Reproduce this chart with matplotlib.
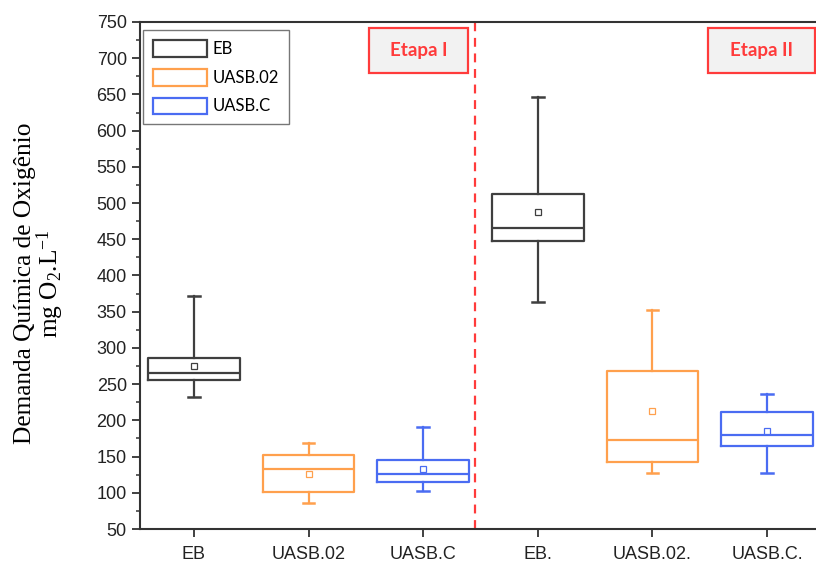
import matplotlib
matplotlib.use('Agg')
import matplotlib.pyplot as plt
from matplotlib.patches import Patch, Rectangle
from matplotlib.ticker import MultipleLocator

plt.rcParams['font.family'] = 'Liberation Sans'
plt.rcParams['mathtext.fontset'] = 'custom'
plt.rcParams['mathtext.rm'] = 'Liberation Serif'
plt.rcParams['mathtext.it'] = 'Liberation Serif:italic'

# === DATA ===
LABELS  = ['EB', 'UASB.02', 'UASB.C', 'EB.', 'UASB.02.', 'UASB.C.']
WHISLO  = [232, 85.5, 102, 364, 127, 127]
Q1      = [256, 101.5, 115, 448, 143, 164.6]
MEDIAN  = [265, 133, 125.5, 465, 172.5, 180]
Q3      = [286.5, 152, 145, 512, 268.6, 212]
WHISHI  = [372, 169, 191, 646, 353, 236.4]
MEAN    = [275, 125.5, 133, 487, 213.4, 185.7]

LEGEND_NAMES = ['EB', 'UASB.02', 'UASB.C']

# === PALETTE ===
GRAY   = '#3f3f3f'
ORANGE = '#FFA04D'
BLUE   = '#4A6CF2'
RED    = '#FF3B3B'
AXIS   = '#333333'
COLORS = [GRAY, ORANGE, BLUE, GRAY, ORANGE, BLUE]

fig = plt.figure(figsize=(8.16, 5.66), dpi=100)
ax = fig.add_axes([140 / 816, 1 - 529 / 566, 681 / 816, 507 / 566])

stats = []
for i in range(len(LABELS)):
    stats.append(dict(label=LABELS[i], whislo=WHISLO[i], q1=Q1[i], med=MEDIAN[i],
                      q3=Q3[i], whishi=WHISHI[i], mean=MEAN[i], fliers=[]))

positions = list(range(1, len(LABELS) + 1))
for i, st in enumerate(stats):
    c = COLORS[i]
    ax.bxp([st], positions=[positions[i]], widths=0.8, showmeans=True,
           capwidths=0.1, patch_artist=False,
           boxprops=dict(color=c, linewidth=1.6),
           medianprops=dict(color=c, linewidth=1.6),
           whiskerprops=dict(color=c, linewidth=1.6),
           capprops=dict(color=c, linewidth=1.8),
           meanprops=dict(marker='s', markersize=5, markerfacecolor='white',
                          markeredgecolor=c, markeredgewidth=0.9))

# separator between stages
ax.axvline(3.45, color=RED, linestyle=(0, (4, 3)), linewidth=1.6, zorder=1)

# axes styling
ax.set_xlim(0.53, 6.47)
ax.set_ylim(50, 750)
ax.set_xticks(positions)
ax.set_xticklabels(LABELS)
ax.yaxis.set_major_locator(MultipleLocator(50))
ax.yaxis.set_minor_locator(MultipleLocator(25))
for s in ax.spines.values():
    s.set_color(AXIS)
    s.set_linewidth(1.5)
ax.tick_params(axis='both', which='major', direction='out', length=6, width=1.3,
               color=AXIS, labelsize=13, labelcolor='#222222')
ax.tick_params(axis='y', which='minor', direction='out', length=3, width=1.1, color=AXIS)
ax.tick_params(axis='x', pad=6)

ax.set_ylabel('Demanda Química de Oxigênio\nmg O$_\\mathregular{2}$.L$^\\mathregular{-1}$',
              family='Liberation Serif', fontsize=18.3, linespacing=0.95)
ax.yaxis.set_label_coords(-0.108, 0.485)

# legend
handles = [Patch(facecolor='white', edgecolor=c, linewidth=1.6) for c in COLORS[:3]]
leg = ax.legend(handles, LEGEND_NAMES, loc='upper left', bbox_to_anchor=(0.0, 0.99),
                frameon=True, fancybox=False, edgecolor='#555555',
                prop=dict(family='Lato', size=12), handlelength=3.2, handleheight=1.15,
                handletextpad=0.35, labelspacing=0.7, borderpad=0.6, borderaxespad=0.2)
leg.get_frame().set_linewidth(1.0)

# stage tags
for x0, x1, txt in [(0.336, 0.482, 'Etapa I'), (0.834, 0.991, 'Etapa II')]:
    ax.add_patch(Rectangle((x0, 0.899), x1 - x0, 0.089, transform=ax.transAxes,
                           facecolor='#f2f2f2', edgecolor=RED, linewidth=1.6, zorder=5))
    ax.text((x0 + x1) / 2, 0.9435, txt, transform=ax.transAxes, ha='center', va='center',
            fontsize=13.5, fontweight='bold', color=RED, family='Lato', zorder=6)

fig.savefig('out.png', dpi=100, facecolor='white')
